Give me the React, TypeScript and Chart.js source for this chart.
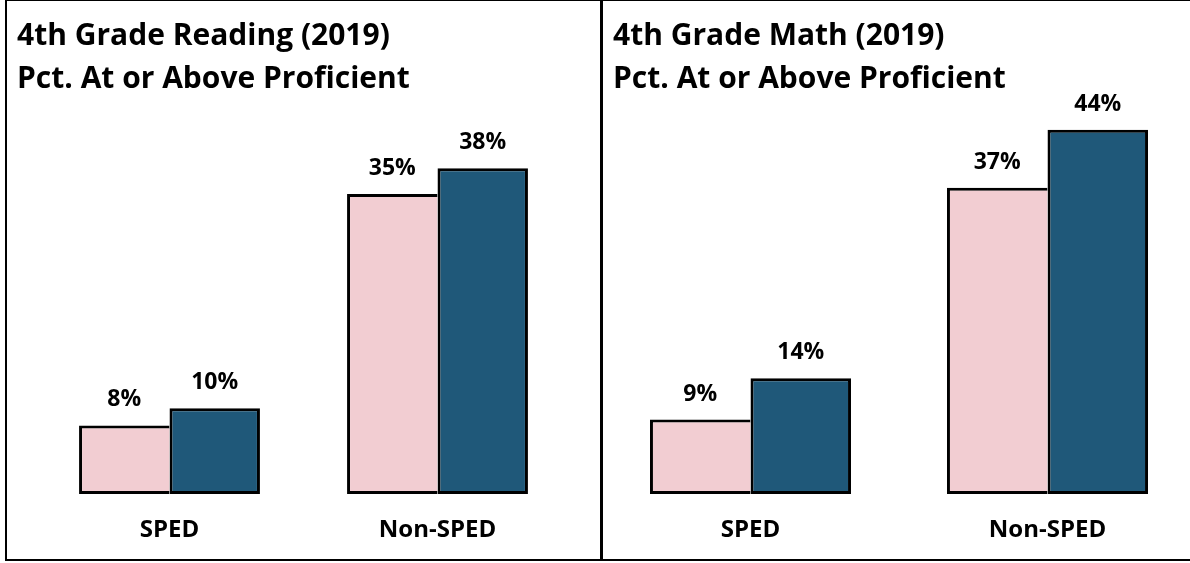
import React, { useEffect, useRef } from "react";
import { Chart, registerables } from "chart.js";

Chart.register(...registerables);

const categories = ["SPED", "Non-SPED"];
const readingPink = [8, 35];
const readingBlue = [10, 38];
const mathPink = [9, 37];
const mathBlue = [14, 44];
const readingTitle = ["4th Grade Reading (2019)", "Pct. At or Above Proficient"];
const mathTitle = ["4th Grade Math (2019)", "Pct. At or Above Proficient"];

const FONT = "'Open Sans', Lato, sans-serif";
const PINK = "#F2CDD2";
const BLUE = "#1F5879";
const LINE = "#000000";

const valueLabels = {
  id: "valueLabels",
  afterDatasetsDraw(chart: any) {
    const ctx = chart.ctx;
    ctx.save();
    ctx.font = `bold 23px ${FONT}`;
    ctx.fillStyle = "#000";
    ctx.textAlign = "center";
    ctx.textBaseline = "alphabetic";
    chart.data.datasets.forEach((ds: any, i: number) => {
      chart.getDatasetMeta(i).data.forEach((bar: any, j: number) => {
        ctx.fillText(`${ds.data[j]}%`, bar.x, bar.y - 19);
      });
    });
    ctx.restore();
  },
};

function makeConfig(pink: number[], blue: number[], yMax: number, padding: any, catPct: number): any {
  return {
    type: "bar",
    data: {
      labels: categories,
      datasets: [
        {
          label: "Series 1",
          data: pink,
          backgroundColor: PINK,
          borderColor: LINE,
          borderWidth: { top: 3, left: 3, bottom: 3, right: 0 },
          borderSkipped: false,
          categoryPercentage: catPct,
          barPercentage: 1,
        },
        {
          label: "Series 2",
          data: blue,
          backgroundColor: BLUE,
          borderColor: LINE,
          borderWidth: 3,
          borderSkipped: false,
          categoryPercentage: catPct,
          barPercentage: 1,
        },
      ],
    },
    options: {
      responsive: false,
      animation: false,
      layout: { padding },
      plugins: {
        legend: { display: false },
        title: { display: false },
        tooltip: { enabled: false },
      },
      scales: {
        x: {
          grid: { display: false, drawTicks: false },
          border: { display: false },
          afterFit: (scale: any) => {
            scale.height = 50.4;
          },
          ticks: {
            color: "#000",
            padding: 22,
            font: { family: FONT, size: 24, weight: "bold" },
          },
        },
        y: { display: false, min: 0, max: yMax },
      },
    },
    plugins: [valueLabels],
  };
}

function Panel(props: {
  pink: number[];
  blue: number[];
  yMax: number;
  padding: any;
  catPct: number;
  left: number;
  width: number;
}) {
  const ref = useRef<HTMLCanvasElement>(null);
  useEffect(() => {
    const chart = new Chart(
      ref.current as HTMLCanvasElement,
      makeConfig(props.pink, props.blue, props.yMax, props.padding, props.catPct)
    );
    return () => chart.destroy();
  }, []);
  return (
    <canvas
      ref={ref}
      width={props.width}
      height={563}
      style={{ position: "absolute", left: props.left, top: 0 }}
    />
  );
}

function Title({ lines, left }: { lines: string[]; left: number }) {
  return (
    <div
      style={{
        position: "absolute",
        left,
        top: 12,
        fontFamily: FONT,
        fontWeight: 700,
        fontSize: 30,
        lineHeight: "43px",
        color: "#000",
        whiteSpace: "pre",
      }}
    >
      {lines.map((l, i) => (
        <div key={i}>{l}</div>
      ))}
    </div>
  );
}

export default function App() {
  return (
    <div
      style={{
        position: "fixed",
        left: 0,
        top: 0,
        width: 1190,
        height: 563,
        overflow: "hidden",
        background: "#fff",
      }}
    >
      <Panel
        pink={readingPink}
        blue={readingBlue}
        yMax={44.8}
        padding={{ left: 35.5, right: 30.5, top: 110, bottom: 18.6 }}
        catPct={0.675}
        left={0}
        width={602}
      />
      <Panel
        pink={mathPink}
        blue={mathBlue}
        yMax={46.4}
        padding={{ left: 7, right: 9, top: 110, bottom: 18.6 }}
        catPct={0.677}
        left={595}
        width={610}
      />
      <Title lines={readingTitle} left={17} />
      <Title lines={mathTitle} left={613} />
      <div
        style={{
          position: "absolute",
          left: 5,
          top: -1,
          width: 1200,
          height: 558,
          borderLeft: `2px solid ${LINE}`,
          borderTop: `2px solid ${LINE}`,
          borderBottom: `2px solid ${LINE}`,
          pointerEvents: "none",
        }}
      />
      <div
        style={{
          position: "absolute",
          left: 600,
          top: 0,
          width: 3,
          height: 560,
          background: LINE,
          pointerEvents: "none",
        }}
      />
    </div>
  );
}
